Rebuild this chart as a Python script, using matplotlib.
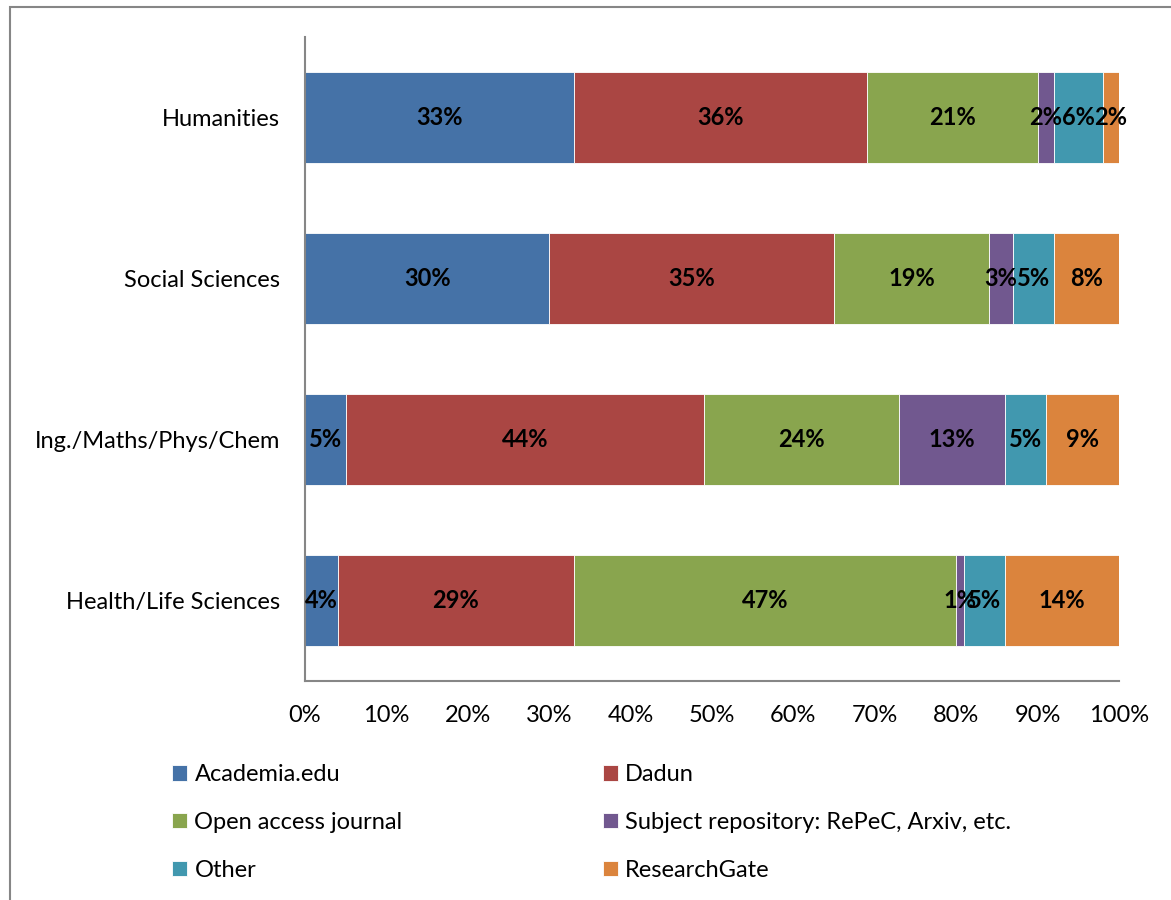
import numpy as np
import matplotlib.pyplot as plt
from matplotlib.patches import Rectangle

plt.rcParams['font.family'] = ['Lato', 'DejaVu Sans']

categories = ['Humanities', 'Social Sciences', 'Ing./Maths/Phys/Chem', 'Health/Life Sciences']
sources = ['Academia.edu', 'Dadun', 'Open access journal',
           'Subject repository: RePeC, Arxiv, etc.', 'Other', 'ResearchGate']
colors = ['#4572A7', '#AA4643', '#89A54E', '#71588F', '#4198AF', '#DB843D']

academia = [33, 30, 5, 4]
dadun = [36, 35, 44, 29]
oa_journal = [21, 19, 24, 47]
subject_repo = [2, 3, 13, 1]
other = [6, 5, 5, 5]
researchgate = [2, 8, 9, 14]

series = [academia, dadun, oa_journal, subject_repo, other, researchgate]
FS = 17

fig = plt.figure(figsize=(11.71, 9), dpi=100)
ax = fig.add_axes([305 / 1171, 1 - 681 / 900, 814 / 1171, 644 / 900])

y = np.arange(len(categories))
left = np.zeros(len(categories))
handles = []
for vals, name, col in zip(series, sources, colors):
    vals = np.array(vals, dtype=float)
    bars = ax.barh(y, vals, left=left, height=0.57, color=col,
                   edgecolor='white', linewidth=0.6, label=name)
    handles.append(bars)
    for yi, l, v in zip(y, left, vals):
        ax.text(l + v / 2, yi, f'{int(v)}%', ha='center', va='center',
                fontsize=FS, fontweight='bold', color='black')
    left += vals

ax.set_xlim(0, 100)
ax.set_ylim(3.5, -0.5)
ax.set_yticks(y)
ax.set_yticklabels(categories, fontsize=FS)
ax.set_xticks(np.arange(0, 101, 10))
ax.set_xticklabels([f'{t}%' for t in range(0, 101, 10)], fontsize=FS)
ax.tick_params(axis='y', length=0, pad=18)
ax.tick_params(axis='x', length=0, pad=17)
for s in ['top', 'right']:
    ax.spines[s].set_visible(False)
for s in ['left', 'bottom']:
    ax.spines[s].set_color('#868686')
    ax.spines[s].set_linewidth(1.5)

# legend: two columns, filled row by row
order = [0, 2, 4, 1, 3, 5]
leg = fig.legend([handles[i] for i in order], [sources[i] for i in order],
                 ncol=2, loc='upper left', bbox_to_anchor=(151 / 1171, 1 - 743 / 900),
                 frameon=False, fontsize=FS, handlelength=0.64, handleheight=0.64,
                 handletextpad=0.3, labelspacing=1.13, columnspacing=8.47)

# outer chart border
fig.add_artist(Rectangle((10 / 1171, -0.1), 1.2, 1 - 7 / 900 + 0.1,
                         transform=fig.transFigure, fill=False,
                         edgecolor='#868686', linewidth=1.5))

fig.savefig('out.png', dpi=100)
